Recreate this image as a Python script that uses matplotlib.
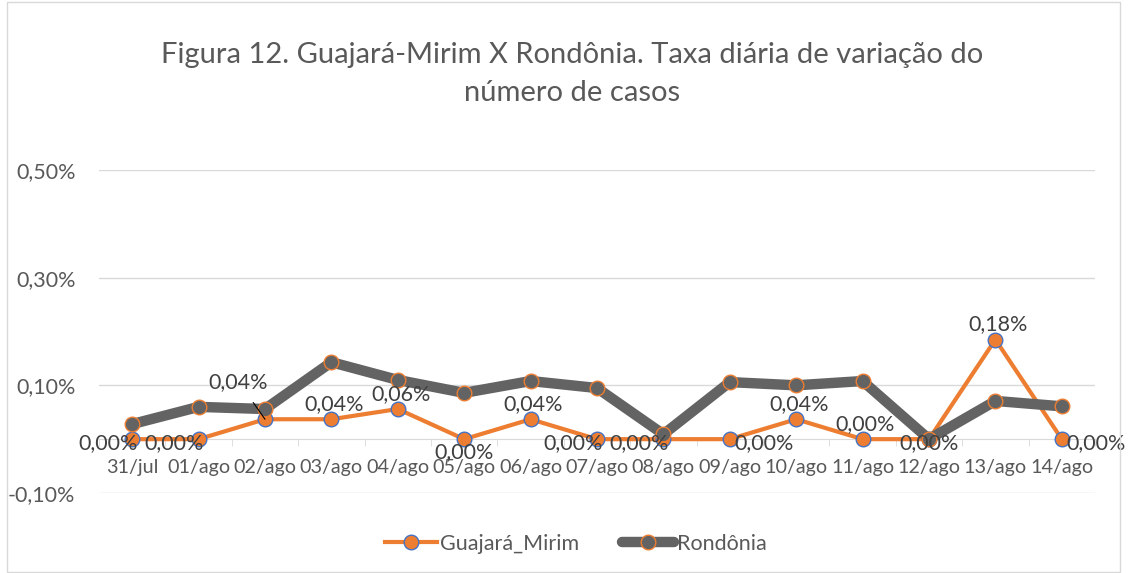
import matplotlib.pyplot as plt
from matplotlib.patches import Rectangle

# Dados (valores em %)
datas = ['31/jul', '01/ago', '02/ago', '03/ago', '04/ago', '05/ago', '06/ago', '07/ago',
         '08/ago', '09/ago', '10/ago', '11/ago', '12/ago', '13/ago', '14/ago']
guajara = [0.0, 0.0, 0.037, 0.037, 0.056, 0.0, 0.037, 0.0, 0.0, 0.0, 0.037, 0.0, 0.0, 0.185, 0.0]
rondonia = [0.028, 0.060, 0.056, 0.143, 0.110, 0.086, 0.108, 0.095, 0.009, 0.106, 0.100,
            0.108, 0.0, 0.071, 0.061]
# posição de cada rótulo de dados
pos_rotulos = ['left', 'left', 'leader', 'above', 'above', 'below', 'above', 'left',
               'left', 'right', 'above', 'above', 'center', 'above', 'right']
yticks = [-0.1, 0.1, 0.3, 0.5]

plt.rcParams['font.family'] = ['Lato', 'DejaVu Sans']
cinza_txt = '#595959'

fig = plt.figure(figsize=(11.29, 5.73), dpi=100)
ax = fig.add_axes([99 / 1129, 1 - 493 / 573, 996 / 1129, 323 / 573])

x = list(range(len(datas)))
ax.plot(x, guajara, color='#ED7D31', lw=3, marker='o', ms=10.5, mfc='#ED7D31',
        mec='#4472C4', mew=1, label='Guajará_Mirim', zorder=3)
ax.plot(x, rondonia, color='#636363', lw=7.5, marker='o', ms=10.5, mfc='#636363',
        mec='#ED7D31', mew=1, label='Rondônia', zorder=4, solid_capstyle='round')

ax.set_xlim(-0.5, len(datas) - 0.5)
ax.set_ylim(-0.1, 0.5)
ax.set_yticks(yticks)
ax.set_yticklabels([f'{v:.2f}%'.replace('.', ',') for v in yticks])
ax.grid(axis='y', color='#D9D9D9', lw=1)
ax.set_axisbelow(True)
for s in ['top', 'right', 'left']:
    ax.spines[s].set_visible(False)
ax.spines['bottom'].set_position(('data', 0))
ax.spines['bottom'].set_color('#D9D9D9')
ax.spines['bottom'].set_zorder(1)
ax.set_xticks(x)
ax.set_xticklabels(datas)
ax.set_xticks([i - 0.5 for i in range(len(datas) + 1)], minor=True)
ax.tick_params(axis='x', which='major', length=0, pad=14, labelsize=14.2, colors=cinza_txt)
ax.tick_params(axis='x', which='minor', length=5, color='#D9D9D9', direction='out')
ax.tick_params(axis='y', length=0, pad=17, labelsize=15.5, colors=cinza_txt)

# rótulos de dados
for xi, v, p in zip(x, guajara, pos_rotulos):
    txt = f'{v:.2f}%'.replace('.', ',')
    kw = dict(fontsize=15.5, color='#404040', zorder=6)
    if p == 'left':
        ax.annotate(txt, (xi, v), xytext=(4, -3), textcoords='offset points',
                    ha='right', va='center', **kw)
    elif p == 'right':
        ax.annotate(txt, (xi, v), xytext=(3, -3), textcoords='offset points',
                    ha='left', va='center', **kw)
    elif p == 'above':
        ax.annotate(txt, (xi, v), xytext=(2, 11), textcoords='offset points',
                    ha='center', va='center', **kw)
    elif p == 'below':
        ax.annotate(txt, (xi, v), xytext=(0, -9), textcoords='offset points',
                    ha='center', va='center', **kw)
    elif p == 'center':
        ax.annotate(txt, (xi, v), xytext=(0, -3), textcoords='offset points',
                    ha='center', va='center', **kw)
    elif p == 'leader':
        ax.annotate(txt, (xi, v), xytext=(-19, 27), textcoords='offset points',
                    ha='center', va='center',
                    arrowprops=dict(arrowstyle='-', color='black', lw=0.8,
                                    shrinkA=7, shrinkB=0), **kw)

fig.text(0.507, 1 - 55 / 573, 'Figura 12. Guajará-Mirim X Rondônia. Taxa diária de variação do',
         ha='center', va='center', fontsize=21, color=cinza_txt)
fig.text(0.507, 1 - 93 / 573, 'número de casos', ha='center', va='center',
         fontsize=21, color=cinza_txt)

fig.legend(loc='center', bbox_to_anchor=(0.51, 1 - 544 / 573), ncol=2, frameon=False,
           fontsize=15.5, handlelength=2.4, columnspacing=2.0, handletextpad=0.15,
           labelcolor=cinza_txt)

fig.patches.append(Rectangle((7 / 1129, 1 / 573), 1113 / 1129, 570 / 573,
                             transform=fig.transFigure, fill=False, ec='#D9D9D9', lw=1))

fig.savefig('out.png', dpi=100)
plt.close()
